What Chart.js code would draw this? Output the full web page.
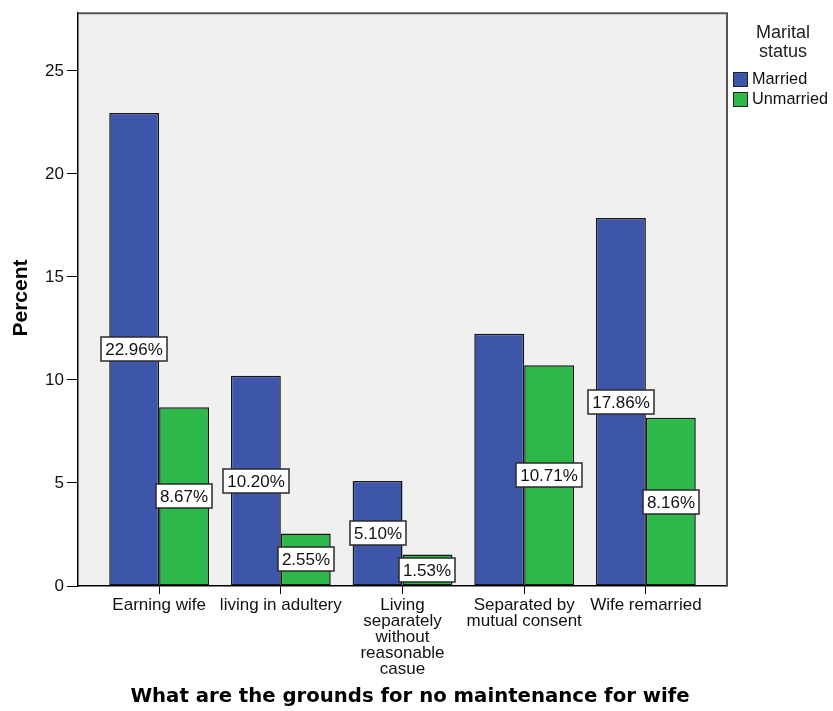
<!DOCTYPE html>
<html>
<head>
<meta charset="utf-8">
<script src="https://cdn.jsdelivr.net/npm/chart.js@4/dist/chart.umd.min.js"></script>
<style>
  html, body { margin: 0; padding: 0; background: #fff; }
  #wrap { width: 833px; height: 711px; }
</style>
</head>
<body>
<div id="wrap"><canvas id="chart" width="833" height="711"></canvas></div>
<script>
// Datos
const categories = [
    'Earning wife',
    'living in adultery',
    ['Living', 'separately', 'without', 'reasonable', 'casue'],
    ['Separated by', 'mutual consent'],
    'Wife remarried'
];
const marriedValues = [22.96, 10.20, 5.10, 12.24, 17.86];
const unmarriedValues = [8.67, 2.55, 1.53, 10.71, 8.16];
// etiquetas visibles en la figura (la de 12.24 no aparece)
const marriedLabels = ['22.96%', '10.20%', '5.10%', null, '17.86%'];
const unmarriedLabels = ['8.67%', '2.55%', '1.53%', '10.71%', '8.16%'];
const yTicks = [0, 5, 10, 15, 20, 25];

const FONT = "'Liberation Sans', Arial, sans-serif";
const blue = '#3d56a9';
const green = '#2db84a';

// Fondo gris del área del gráfico y marco
const plotBox = {
    id: 'plotBox',
    beforeDraw(chart) {
        const { ctx, chartArea: a } = chart;
        ctx.save();
        ctx.fillStyle = '#ffffff';
        ctx.fillRect(0, 0, chart.width, chart.height);
        ctx.fillStyle = '#f0f0f0';
        ctx.fillRect(a.left, a.top, a.right - a.left, a.bottom - a.top);
        ctx.restore();
    },
    beforeDatasetsDraw(chart) {
        const { ctx, chartArea: a } = chart;
        ctx.save();
        ctx.strokeStyle = '#555555';
        ctx.lineWidth = 2;
        ctx.beginPath();
        ctx.moveTo(a.left, a.top);
        ctx.lineTo(a.right, a.top);
        ctx.lineTo(a.right, a.bottom);
        ctx.stroke();
        ctx.restore();
    }
};

// Etiquetas de valor en el centro de cada barra
const valueLabels = {
    id: 'valueLabels',
    afterDatasetsDraw(chart) {
        const ctx = chart.ctx;
        const sets = [marriedLabels, unmarriedLabels];
        ctx.save();
        ctx.font = '17px ' + FONT;
        ctx.textAlign = 'center';
        ctx.textBaseline = 'middle';
        sets.forEach((labels, di) => {
            const meta = chart.getDatasetMeta(di);
            meta.data.forEach((bar, i) => {
                const txt = labels[i];
                if (!txt) return;
                const cx = Math.round(bar.x);
                const cy = Math.round((bar.y + bar.base) / 2);
                const w = Math.round(ctx.measureText(txt).width + 8);
                const h = 24;
                ctx.fillStyle = '#ffffff';
                ctx.fillRect(cx - w / 2, cy - h / 2, w, h);
                ctx.strokeStyle = '#2a2a2a';
                ctx.lineWidth = 1.5;
                ctx.strokeRect(cx - w / 2, cy - h / 2, w, h);
                ctx.fillStyle = '#111111';
                ctx.fillText(txt, cx, cy + 1);
            });
        });
        ctx.restore();
    }
};

// Títulos de ejes y leyenda
const extraText = {
    id: 'extraText',
    afterDraw(chart) {
        const { ctx } = chart;
        ctx.save();
        ctx.fillStyle = '#000';
        ctx.textAlign = 'center';

        ctx.font = 'bold 21px ' + FONT;
        ctx.textBaseline = 'alphabetic';
        ctx.save();
        ctx.translate(27, 298);
        ctx.rotate(-Math.PI / 2);
        ctx.fillText('Percent', 0, 0);
        ctx.restore();

        ctx.font = "bold 19.7px 'DejaVu Sans', Verdana, sans-serif";
        ctx.textBaseline = 'middle';
        ctx.fillText('What are the grounds for no maintenance for wife', 410, 697);

        // leyenda
        ctx.font = '18px ' + FONT;
        ctx.fillStyle = '#222';
        ctx.fillText('Marital', 783, 33);
        ctx.fillText('status', 783, 52);
        ctx.font = '16.3px ' + FONT;
        const items = [['Married', blue], ['Unmarried', green]];
        items.forEach((it, i) => {
            const y = 72 + i * 20;
            ctx.fillStyle = it[1];
            ctx.fillRect(733, y, 15, 15);
            ctx.strokeStyle = '#222';
            ctx.lineWidth = 1;
            ctx.strokeRect(733.5, y + 0.5, 14, 14);
            ctx.fillStyle = '#111';
            ctx.textAlign = 'left';
            ctx.fillText(it[0], 752, y + 8);
        });
        ctx.restore();
    }
};

const ctx = document.getElementById('chart').getContext('2d');
new Chart(ctx, {
    type: 'bar',
    data: {
        labels: categories,
        datasets: [
            { label: 'Married', data: marriedValues, backgroundColor: blue, borderColor: '#151515', borderWidth: 1.5, borderSkipped: false },
            { label: 'Unmarried', data: unmarriedValues, backgroundColor: green, borderColor: '#151515', borderWidth: 1.5, borderSkipped: false }
        ]
    },
    options: {
        responsive: false,
        animation: false,
        layout: { padding: { top: 12, right: 106, left: 0, bottom: 0 } },
        plugins: { legend: { display: false }, tooltip: { enabled: false } },
        datasets: { bar: { categoryPercentage: 0.82, barPercentage: 1.0 } },
        scales: {
            x: {
                type: 'category',
                offset: true,
                afterBuildTicks(scale) {
                    // margen extra a ambos lados como en SPSS
                    scale._startValue -= 0.1667;
                    scale._valueRange += 0.3333;
                },
                afterFit(scale) { scale.height = 125; },
                grid: { display: true, offset: false, drawOnChartArea: false, drawTicks: true, tickLength: 8, color: '#000' },
                border: { display: true, color: '#000', width: 1.5 },
                ticks: { color: '#111', font: { family: FONT, size: 17, lineHeight: 0.95 }, maxRotation: 0, autoSkip: false, padding: 3 }
            },
            y: {
                min: 0,
                max: 27.8,
                afterBuildTicks(scale) {
                    scale.ticks = yTicks.map(v => ({ value: v }));
                },
                afterFit(scale) { scale.width = 78; },
                grid: { display: true, drawOnChartArea: false, drawTicks: true, tickLength: 11, color: '#000' },
                border: { display: true, color: '#000', width: 1.5 },
                ticks: { color: '#111', font: { family: FONT, size: 17 }, padding: 3 }
            }
        }
    },
    plugins: [plotBox, valueLabels, extraText]
});
</script>
</body>
</html>
